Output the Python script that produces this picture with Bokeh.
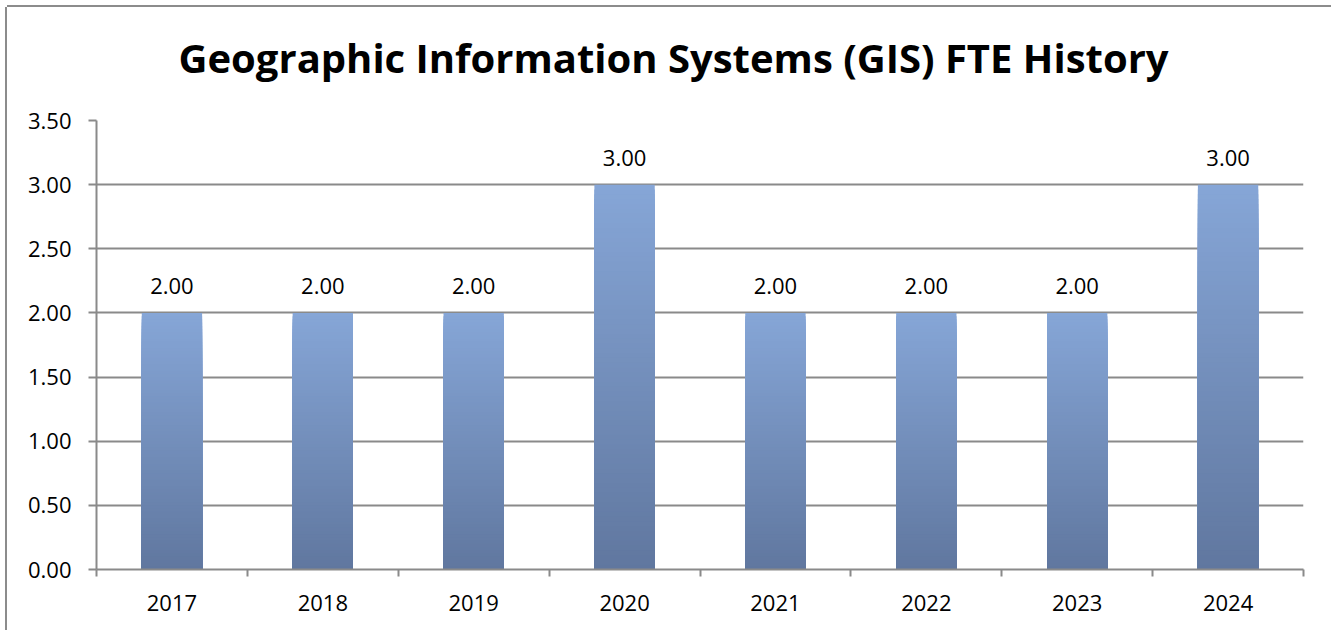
from bokeh.plotting import figure
from bokeh.models import (Range1d, FixedTicker, NumeralTickFormatter, Title,
                          ColumnDataSource)
from bokeh.embed import file_html
from bokeh.resources import INLINE
from bokeh.core.properties import value

# ---- data ----
years = ["2017", "2018", "2019", "2020", "2021", "2022", "2023", "2024"]
fte = [2.00, 2.00, 2.00, 3.00, 2.00, 2.00, 2.00, 3.00]
y_ticks = [0.0, 0.5, 1.0, 1.5, 2.0, 2.5, 3.0, 3.5]
title_text = "Geographic Information Systems (GIS) FTE History"

GRAY = "#8a8a8a"
FONT = "Open Sans"

n = len(years)
centers = [i + 0.5 for i in range(n)]
bounds = [float(i) for i in range(n + 1)]

p = figure(width=1324, height=623, x_range=Range1d(0, n), y_range=Range1d(0, 3.5),
           output_backend="svg", toolbar_location=None,
           min_border_left=89, min_border_right=28, min_border_top=113,
           min_border_bottom=61)
p.outline_line_color = None
p.background_fill_color = "white"
p.border_fill_color = "white"
p.styles = {"margin-left": "7px", "margin-top": "7px",
            "box-shadow": "0px -2px 0px 0px #8c8c8c, -2px 0px 0px 0px #8c8c8c"}

# ---- title (a thin spacer sits between the frame and the title) ----
p.add_layout(Title(text=" ", text_font_size="1px", standoff=33), "above")
p.add_layout(Title(text=title_text, align="left", offset=82, standoff=0,
                   vertical_align="bottom",
                   text_font=FONT, text_font_style="bold",
                   text_font_size="40px", text_color="black"), "above")

# ---- gradient bars (overlapping slices, tallest = lightest drawn first) ----
top_rgb = (0x86, 0xA6, 0xD7)
bot_rgb = (0x60, 0x77, 0x9F)
N = 80
xs, tops, cols = [], [], []
for xc, v in zip(centers, fte):
    for k in reversed(range(N)):
        t = (k + 0.5) / N
        c = tuple(int(round(b + (tp - b) * t)) for b, tp in zip(bot_rgb, top_rgb))
        xs.append(xc)
        tops.append(v * (k + 1) / N)
        cols.append("#%02x%02x%02x" % c)
src = ColumnDataSource(dict(x=xs, top=tops, color=cols))
p.vbar(x="x", width=0.4, bottom=0, top="top", source=src,
       fill_color="color", line_color=None)

# ---- value labels ----
p.text(x=centers, y=fte, text=["%.2f" % v for v in fte],
       text_align="center", text_baseline="alphabetic", y_offset=-27,
       text_font=value(FONT), text_font_size="22px", text_color="black")

# ---- axes ----
xa = p.xaxis[0]
xa.ticker = FixedTicker(ticks=centers, minor_ticks=bounds)
xa.major_label_overrides = {c: y for c, y in zip(centers, years)}
xa.major_tick_out = 0
xa.major_tick_in = 0
xa.minor_tick_out = 7
xa.minor_tick_in = 0
xa.minor_tick_line_color = GRAY
xa.minor_tick_line_width = 2
xa.axis_line_color = GRAY
xa.axis_line_width = 2
xa.major_label_standoff = 18
xa.major_label_text_font = FONT
xa.major_label_text_font_size = "22px"
xa.major_label_text_color = "black"

ya = p.yaxis[0]
ya.ticker = FixedTicker(ticks=y_ticks, minor_ticks=[])
ya.formatter = NumeralTickFormatter(format="0.00")
ya.major_tick_out = 8
ya.major_tick_in = 0
ya.minor_tick_out = 0
ya.major_tick_line_color = GRAY
ya.major_tick_line_width = 2
ya.axis_line_color = GRAY
ya.axis_line_width = 2
ya.major_label_standoff = 17
ya.major_label_text_font = FONT
ya.major_label_text_font_size = "22px"
ya.major_label_text_color = "black"

p.xgrid.visible = False
p.ygrid.ticker = FixedTicker(ticks=y_ticks)
p.ygrid.grid_line_color = GRAY
p.ygrid.grid_line_width = 2

open("out.html", "w").write(file_html(p, INLINE))
